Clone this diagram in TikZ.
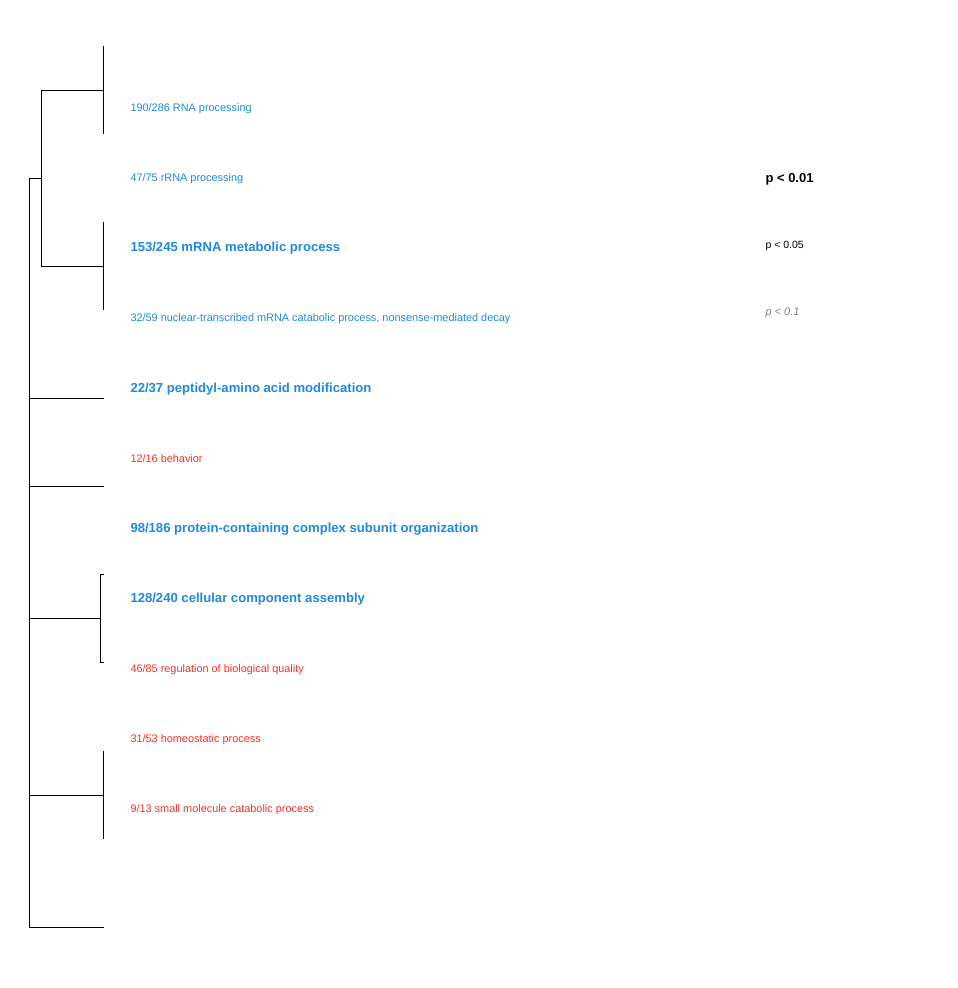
\documentclass[tikz,border=0pt]{standalone}
\usepackage{fontspec}
\setmainfont{Liberation Sans}
\usepackage{tikz}
\usetikzlibrary{positioning}
\definecolor{termBlue}{RGB}{30,136,229}
\definecolor{termRed}{RGB}{255,45,40}
\definecolor{pGrey}{RGB}{120,128,150}

\begin{document}
\begin{tikzpicture}[x=1pt, y=-1pt, line width=1pt,
  term/.style={anchor=base west, inner sep=0pt, font=\fontsize{10.9}{13}\selectfont},
  bigterm/.style={anchor=base west, inner sep=0pt, termBlue, font=\fontsize{13.1}{15}\selectfont\bfseries}]
  \useasboundingbox (0,0) rectangle (958,988);
  % Terms
  \node[term, termBlue] (rnaproc) at (130,111) {190/286 RNA processing};
  \node[term, termBlue] (rrna) at (130,181) {47/75 rRNA processing};
  \node[bigterm] (mrna) at (130,251) {153/245 mRNA metabolic process};
  \node[term, termBlue] (nmd) at (130,321) {32/59 nuclear-transcribed mRNA catabolic process, nonsense-mediated decay};
  \node[bigterm] (peptidyl) at (130,392) {22/37 peptidyl-amino acid modification};
  \node[term, termRed] (behav) at (130,462) {12/16 behavior};
  \node[bigterm] (complex) at (130,532) {98/186 protein-containing complex subunit organization};
  \node[bigterm] (ccassem) at (130,602) {128/240 cellular component assembly};
  \node[term, termRed] (regqual) at (130,672) {46/85 regulation of biological quality};
  \node[term, termRed] (homeo) at (130,742) {31/53 homeostatic process};
  \node[term, termRed] (smcat) at (130,812) {9/13 small molecule catabolic process};
  % Legend
  \node[anchor=base west, inner sep=0pt, font=\fontsize{13}{15}\selectfont\bfseries] (p01) at (765,182) {p < 0.01};
  \node[anchor=base west, inner sep=0pt, font=\fontsize{10.5}{12}\selectfont] (p05) at (765,248) {p < 0.05};
  \node[anchor=base west, inner sep=0pt, pGrey, font=\fontsize{11}{13}\selectfont\itshape] (p1) at (765,315) {p < 0.1};
  % Tree
  \coordinate (a1) at (103,46);
  \coordinate (a2) at (103,134);
  \coordinate (am) at (103,90);
  \coordinate (b1) at (103,222);
  \coordinate (b2) at (103,310);
  \coordinate (bm) at (103,266);
  \coordinate (ab) at (41,178);
  \coordinate (rtop) at (29,178);
  \coordinate (rbot) at (29,927);
  \coordinate (h1) at (104,398);
  \coordinate (h2) at (104,486);
  \coordinate (c1) at (104,574);
  \coordinate (c2) at (104,662);
  \coordinate (cm) at (100,618);
  \coordinate (d1) at (103,751);
  \coordinate (d2) at (103,839);
  \coordinate (dm) at (103,795);
  \coordinate (z) at (104,927);
  \draw (a1) -- (a2);
  \draw (b1) -- (b2);
  \draw (am) -- (am -| ab) -- (bm -| ab) -- (bm);
  \draw (ab) -- (rtop) -- (rbot) -- (z);
  \draw (h1 -| rtop) -- (h1);
  \draw (h2 -| rtop) -- (h2);
  \draw (c1) -- (c1 -| cm) -- (c2 -| cm) -- (c2);
  \draw (cm) -- (cm -| rtop);
  \draw (d1) -- (d2);
  \draw (dm) -- (dm -| rtop);
\end{tikzpicture}
\end{document}
